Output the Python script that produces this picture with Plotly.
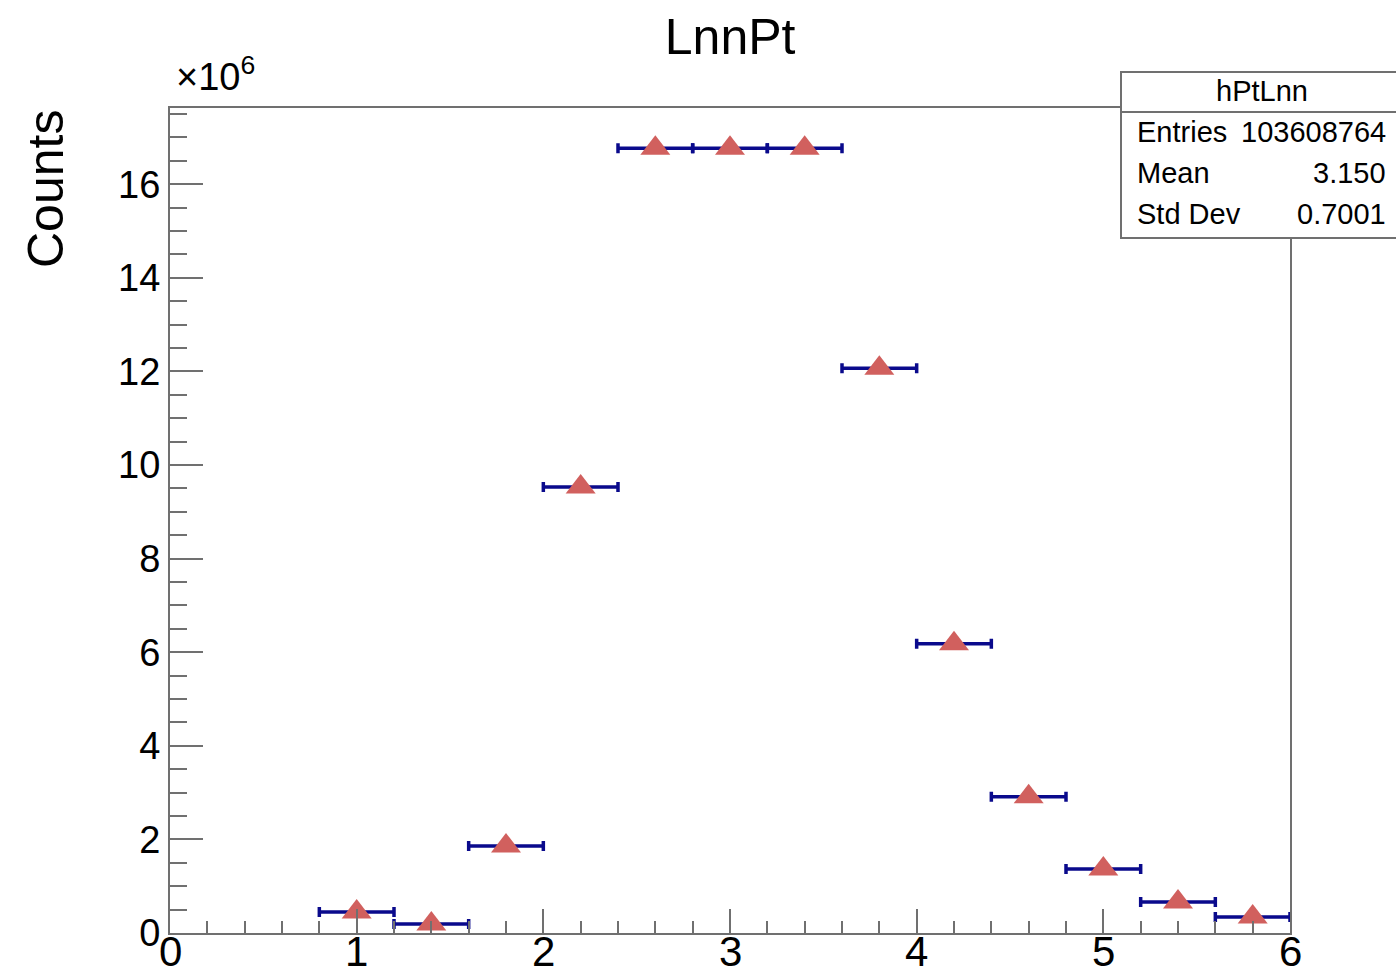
import plotly.graph_objects as go

# Histogram hPtLnn: bin centres, half-widths and contents
bin_centers = [1.0, 1.4, 1.8, 2.2, 2.6, 3.0, 3.4, 3.8, 4.2, 4.6, 5.0, 5.4, 5.8]
bin_half_width = [0.2] * len(bin_centers)
counts = [0.45e6, 0.19e6, 1.86e6, 9.53e6, 16.77e6, 16.77e6, 16.77e6,
          12.07e6, 6.18e6, 2.91e6, 1.37e6, 0.66e6, 0.34e6]

x_ticks = [0, 1, 2, 3, 4, 5, 6]
y_tick_vals = [0, 2e6, 4e6, 6e6, 8e6, 10e6, 12e6, 14e6, 16e6]
y_tick_text = ["0", "2", "4", "6", "8", "10", "12", "14", "16"]

stats_title = "hPtLnn"
stats_labels = ["Entries", "Mean", "Std Dev"]
stats_values = ["103608764", "3.150", "0.7001"]

FONT = "Liberation Sans, Arial, sans-serif"
AXIS_COLOR = "#707070"

fig = go.Figure()
fig.add_trace(go.Scatter(
    x=bin_centers, y=counts, mode="markers",
    marker=dict(symbol="triangle-up", size=26, color="#d1605e", line=dict(width=0)),
    error_x=dict(type="data", array=bin_half_width, symmetric=True,
                 color="#0a0a8c", thickness=3.5, width=5),
    showlegend=False,
))

W, H = 1396, 977
L, R, T, B = 170, 106, 108, 44

fig.update_layout(
    width=W, height=H,
    margin=dict(l=L, r=R, t=T, b=B),
    paper_bgcolor="white", plot_bgcolor="white",
    font=dict(family=FONT, color="black"),
    title=dict(text="LnnPt", x=0.523, xanchor="center", y=0.963, yanchor="middle",
               font=dict(size=50, family=FONT)),
    xaxis=dict(
        range=[0, 6], tickvals=x_ticks, ticks="inside", ticklen=24, tickwidth=2,
        tickcolor=AXIS_COLOR, showline=True, linecolor=AXIS_COLOR, linewidth=2,
        mirror=True, showgrid=False, zeroline=False, automargin=False,
        showticklabels=False,
        minor=dict(dtick=0.2, ticks="inside", ticklen=12, tickwidth=2,
                   tickcolor=AXIS_COLOR, showgrid=False),
    ),
    yaxis=dict(
        range=[0, 17.63e6], tickvals=y_tick_vals, ticktext=y_tick_text,
        ticks="inside", ticklen=33, tickwidth=2, tickcolor=AXIS_COLOR,
        showline=True, linecolor=AXIS_COLOR, linewidth=2, mirror=True,
        showgrid=False, zeroline=False, automargin=False,
        tickfont=dict(size=38, family=FONT),
        minor=dict(dtick=0.5e6, ticks="inside", ticklen=17, tickwidth=2,
                   tickcolor=AXIS_COLOR, showgrid=False),
    ),
)

def px(xp):
    return (xp - L) / (W - L - R)

def py(yp):
    return (H - B - yp) / (H - T - B)

# x tick labels sit tight under the axis, ROOT style
for xv in x_ticks:
    fig.add_annotation(text=str(xv), xref="x", yref="paper", x=xv, y=py(952),
                       xanchor="center", yanchor="middle", showarrow=False,
                       font=dict(size=42, family=FONT), borderpad=0)

# axis title and exponent
fig.add_annotation(text="Counts", textangle=-90, xref="paper", yref="paper",
                   x=px(46), y=py(108), xanchor="center", yanchor="top",
                   showarrow=False, font=dict(size=50, family=FONT))
fig.add_annotation(text="×10<sup>6</sup>", xref="paper", yref="paper",
                   x=px(174), y=py(100), xanchor="left", yanchor="bottom",
                   showarrow=False, font=dict(size=38, family=FONT))

# statistics box
bx0, bx1, by0, by1, bhead = 1121, 1400, 72, 238, 112
fig.add_shape(type="rect", xref="paper", yref="paper",
              x0=px(bx0), x1=px(bx1), y0=py(by1), y1=py(by0),
              fillcolor="white", line=dict(color=AXIS_COLOR, width=2), layer="above")
fig.add_shape(type="line", xref="paper", yref="paper",
              x0=px(bx0), x1=px(bx1), y0=py(bhead), y1=py(bhead),
              line=dict(color=AXIS_COLOR, width=2), layer="above")
fig.add_annotation(text=stats_title, xref="paper", yref="paper",
                   x=px(1262), y=py(91), xanchor="center", yanchor="middle",
                   showarrow=False, font=dict(size=29, family=FONT))
row_y = [132, 173, 214]
for lab, val, yy in zip(stats_labels, stats_values, row_y):
    fig.add_annotation(text=lab, xref="paper", yref="paper",
                       x=px(1135), y=py(yy), xanchor="left", yanchor="middle",
                       showarrow=False, font=dict(size=29, family=FONT))
    fig.add_annotation(text=val, xref="paper", yref="paper",
                       x=px(1388), y=py(yy), xanchor="right", yanchor="middle",
                       showarrow=False, font=dict(size=29, family=FONT))

fig.write_html("out.html")
